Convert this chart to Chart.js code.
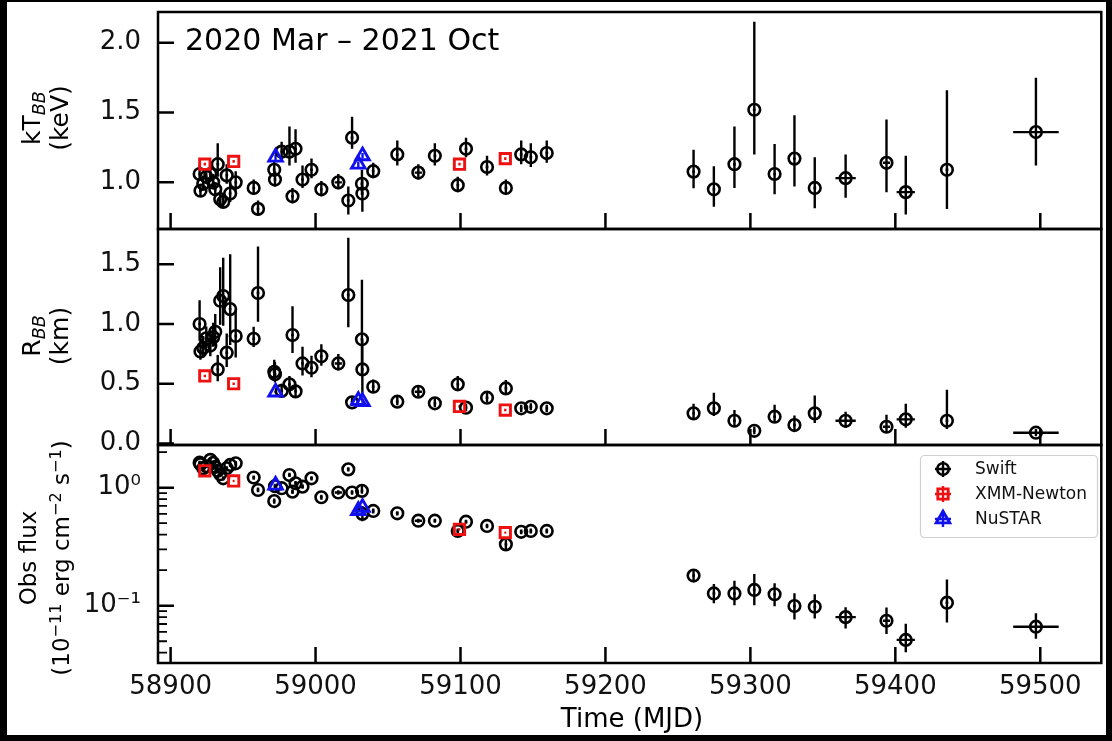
<!DOCTYPE html>
<html><head><meta charset="utf-8">
<script src="https://cdn.jsdelivr.net/npm/chart.js@4.4.1/dist/chart.umd.min.js"></script>
<style>
html,body{margin:0;padding:0;width:1112px;height:741px;overflow:hidden;background:#000;}
#paper{position:absolute;left:7px;top:2px;width:1099px;height:733px;background:#fff;}
canvas{position:absolute;left:0;}
.lab{position:absolute;font-family:'DejaVu Sans';color:#000;white-space:nowrap;}
.ylab{transform:translate(-50%,-50%) rotate(-90deg);text-align:center;}
.sb{font-size:70%;font-style:italic;vertical-align:-0.3em;line-height:0;}
.sp{font-size:70%;vertical-align:0.5em;line-height:0;}
</style></head><body>
<div id="paper"></div>
<canvas id="c1" width="1112" height="250" style="top:0px"></canvas>
<canvas id="c2" width="1112" height="256" style="top:209px"></canvas>
<canvas id="c3" width="1112" height="316" style="top:425px"></canvas>
<div class="lab" style="left:185px;top:25px;font-size:30px;line-height:30px">2020 Mar – 2021 Oct</div>
<div class="lab ylab" style="left:46px;top:118px;font-size:25px;line-height:28px">kT<span class="sb">BB</span><br>(keV)</div>
<div class="lab ylab" style="left:46px;top:336px;font-size:25px;line-height:28px">R<span class="sb">BB</span><br>(km)</div>
<div class="lab ylab" style="left:45px;top:558px;font-size:23px;line-height:33px">Obs flux<br>(10<span class="sp">−11</span> erg cm<span class="sp">−2</span> s<span class="sp">−1</span>)</div>
<div class="lab" style="left:632px;top:718px;transform:translate(-50%,-50%);font-size:26px">Time (MJD)</div>
<script>
// ---------------- DATA ----------------
const SWIFT_MJD = [58920.0, 58920.6, 58922.5, 58924.6, 58927.4, 58929.4, 58930.8, 58932.5, 58934.2, 58936.3, 58938.7, 58941.1, 58944.9,
  58957.3, 58960.3, 58971.5, 58972.0, 58976.6, 58982.0, 58984.1, 58986.2, 58991.0, 58997.2, 59004.0, 59015.7, 59022.6, 59025.2, 59032.0, 59032.3, 59039.8,
  59056.4, 59070.9, 59082.3, 59098.1, 59103.8, 59118.3, 59131.3, 59141.9, 59148.5, 59159.5,
  59260.8, 59274.8, 59289.0, 59302.7, 59316.7, 59330.4, 59344.4, 59365.7, 59393.9, 59407.2, 59435.6, 59497.0];
const SWIFT_XERR = [1,1,1,1,1,1,1,1,1,1,1,1,1,
  1,1,1,1,1,1,1,1,1,1,1,2.5,1,1,1,1,1,
  1,2.5,1,1,1,1,1,1,1,1,
  1,1,1,1,1,1,1,7,2.5,6.3,1,15.7];
const SWIFT_KT = [1.06, 0.94, 0.99, 1.04, 1.06, 1.00, 0.95, 1.13, 0.88, 0.86, 1.05, 0.92, 1.00,
  0.96, 0.81, 1.09, 1.02, 1.22, 1.22, 0.90, 1.24, 1.02, 1.09, 0.95, 1.00, 0.87, 1.32, 0.99, 0.92, 1.08,
  1.20, 1.07, 1.19, 0.98, 1.24, 1.11, 0.96, 1.20, 1.18, 1.21,
  1.077, 0.95, 1.13, 1.52, 1.06, 1.17, 0.96, 1.03, 1.14, 0.93, 1.09, 1.36];
const SWIFT_KT_LO = [0.05,0.04,0.05,0.05,0.05,0.05,0.04,0.09,0.05,0.04,0.06,0.06,0.06,
  0.05,0.05,0.05,0.05,0.06,0.10,0.05,0.10,0.06,0.06,0.05,0.05,0.10,0.08,0.08,0.13,0.05,
  0.08,0.05,0.07,0.05,0.06,0.06,0.05,0.07,0.07,0.07,
  0.12,0.125,0.17,0.32,0.146,0.20,0.146,0.14,0.21,0.16,0.28,0.24];
const SWIFT_KT_HI = [0.06,0.05,0.06,0.06,0.07,0.06,0.05,0.15,0.06,0.05,0.08,0.08,0.08,
  0.06,0.06,0.06,0.06,0.07,0.18,0.06,0.14,0.10,0.08,0.06,0.06,0.10,0.15,0.10,0.10,0.06,
  0.10,0.06,0.09,0.06,0.08,0.08,0.06,0.10,0.10,0.09,
  0.156,0.165,0.27,0.63,0.215,0.31,0.22,0.17,0.31,0.26,0.57,0.39];
const SWIFT_R = [1.00, 0.77, 0.80, 0.88, 0.82, 0.89, 0.935, 0.62, 1.195, 1.235, 0.76, 1.125, 0.90,
  0.877, 1.26, 0.60, 0.58, 0.44, 0.495, 0.908, 0.436, 0.67, 0.634, 0.73, 0.67, 1.243, 0.344, 0.872, 0.62, 0.475,
  0.35, 0.433, 0.336, 0.495, 0.30, 0.383, 0.461, 0.294, 0.307, 0.294,
  0.252, 0.294, 0.19, 0.106, 0.224, 0.154, 0.252, 0.19, 0.14, 0.202, 0.19, 0.09];
const SWIFT_R_LO = [0.14,0.07,0.08,0.08,0.09,0.08,0.12,0.10,0.20,0.25,0.12,0.30,0.18,
  0.07,0.24,0.07,0.07,0.05,0.05,0.15,0.05,0.10,0.08,0.08,0.06,0.27,0.03,0.30,0.22,0.05,
  0.03,0.04,0.03,0.05,0.03,0.04,0.05,0.03,0.03,0.03,
  0.05,0.065,0.05,0.03,0.05,0.05,0.08,0.06,0.05,0.07,0.07,0.03];
const SWIFT_R_HI = [0.20,0.09,0.10,0.10,0.12,0.12,0.15,0.12,0.28,0.32,0.16,0.46,0.22,
  0.10,0.39,0.10,0.10,0.06,0.07,0.24,0.06,0.14,0.10,0.10,0.08,0.48,0.04,0.50,0.25,0.06,
  0.04,0.05,0.04,0.07,0.03,0.05,0.07,0.03,0.03,0.03,
  0.08,0.13,0.09,0.035,0.10,0.08,0.15,0.075,0.10,0.13,0.26,0.03];
const SWIFT_FLUX = [1.63, 1.58, 1.46, 1.52, 1.72, 1.62, 1.50, 1.39, 1.30, 1.20, 1.46, 1.56, 1.61,
  1.22, 0.956, 0.77, 1.03, 0.99, 1.28, 0.925, 1.09, 1.02, 1.20, 0.83, 0.91, 1.43, 0.91, 0.94, 0.60, 0.635,
  0.607, 0.525, 0.525, 0.43, 0.515, 0.474, 0.331, 0.423, 0.43, 0.43,
  0.18, 0.127, 0.127, 0.136, 0.125, 0.0994, 0.098, 0.080, 0.0746, 0.0513, 0.106, 0.0664];
const SWIFT_FLUX_LO = [0.06,0.06,0.06,0.06,0.07,0.06,0.06,0.05,0.05,0.05,0.06,0.06,0.07,
  0.05,0.04,0.04,0.05,0.04,0.05,0.04,0.05,0.04,0.05,0.04,0.04,0.06,0.04,0.05,0.08,0.03,
  0.025,0.02,0.02,0.02,0.02,0.02,0.03,0.02,0.02,0.02,
  0.02,0.022,0.026,0.035,0.026,0.023,0.02,0.016,0.017,0.011,0.034,0.014];
const SWIFT_FLUX_HI = [0.06,0.06,0.06,0.06,0.07,0.06,0.06,0.05,0.05,0.05,0.06,0.06,0.07,
  0.05,0.05,0.04,0.05,0.04,0.06,0.04,0.05,0.05,0.05,0.04,0.04,0.06,0.04,0.10,0.10,0.03,
  0.025,0.02,0.02,0.02,0.02,0.02,0.03,0.02,0.02,0.02,
  0.02,0.026,0.036,0.05,0.03,0.028,0.027,0.017,0.022,0.019,0.061,0.02];

const XMM_MJD = [58923.6, 58943.5, 59099.3, 59130.9];
const XMM_KT = [1.13, 1.15, 1.13, 1.17];
const XMM_R = [0.565, 0.50, 0.31, 0.28];
const XMM_FLUX = [1.39, 1.14, 0.444, 0.416];
const XMM_ERR_KT = [0.01, 0.01, 0.01, 0.01];
const XMM_ERR_R = [0.01, 0.01, 0.01, 0.01];
const XMM_ERR_FLUX = [0.01, 0.01, 0.004, 0.004];

const NUSTAR_MJD = [58972.4, 59029.5, 59032.4];
const NUSTAR_KT = [1.18, 1.13, 1.19];
const NUSTAR_R = [0.43, 0.36, 0.35];
const NUSTAR_FLUX = [1.05, 0.64, 0.68];
const NUSTAR_ERR_KT = [0.02, 0.02, 0.02];
const NUSTAR_ERR_R = [0.01, 0.01, 0.01];
const NUSTAR_ERR_FLUX = [0.01, 0.01, 0.01];

const X_TICKS = [58900, 59000, 59100, 59200, 59300, 59400, 59500];
const KT_TICKS = [1.0, 1.5, 2.0];
const R_TICKS = [0.0, 0.5, 1.0, 1.5];
const FLUX_MAJOR = [0.1, 1];
const FLUX_LABELS = {'0.1': '10⁻¹', '1': '10⁰'};
const LEGEND_LABELS = ['Swift', 'XMM-Newton', 'NuSTAR'];

const X_MIN = 58891.3, X_MAX = 59542.1;

// ---------------- STYLE / HELPERS ----------------
Chart.defaults.font.family = 'DejaVu Sans';
Chart.defaults.color = '#000';
const C_SWIFT = '#000000', C_XMM = '#ee1111', C_NU = '#1111ee';

function pts(xs, ys) { return xs.map((x, i) => ({x: x, y: ys[i]})); }

function errPlugin(specs) {
  return {
    id: 'errbars',
    beforeDatasetsDraw(chart) {
      const {ctx, chartArea: a, scales} = chart;
      const xs = scales.x, ys = scales.y;
      ctx.save();
      ctx.beginPath(); ctx.rect(a.left, a.top, a.right - a.left, a.bottom - a.top); ctx.clip();
      ctx.lineWidth = 2.4; ctx.lineCap = 'butt';
      for (const s of specs) {
        ctx.strokeStyle = s.color; ctx.beginPath();
        for (let i = 0; i < s.x.length; i++) {
          const px = xs.getPixelForValue(s.x[i]);
          const py = ys.getPixelForValue(s.y[i]);
          let lo = s.y[i] - s.lo[i]; if (lo <= 0) lo = s.y[i] * 0.5;
          ctx.moveTo(px, ys.getPixelForValue(lo));
          ctx.lineTo(px, ys.getPixelForValue(s.y[i] + s.hi[i]));
          const xe = s.xe ? s.xe[i] : 0.5;
          ctx.moveTo(xs.getPixelForValue(s.x[i] - xe), py);
          ctx.lineTo(xs.getPixelForValue(s.x[i] + xe), py);
        }
        ctx.stroke();
      }
      ctx.restore();
    }
  };
}

const framePlugin = {
  id: 'frame',
  afterDatasetsDraw(chart) {
    const {ctx, chartArea: a, scales} = chart;
    ctx.save();
    ctx.strokeStyle = '#000'; ctx.lineWidth = 2.5;
    ctx.beginPath();
    X_TICKS.forEach(v => { const p = scales.x.getPixelForValue(v); ctx.moveTo(p, a.bottom); ctx.lineTo(p, a.bottom - 16); });
    const isLog = scales.y.type === 'logarithmic';
    scales.y.ticks.forEach(t => {
      const v = t.value;
      const p = scales.y.getPixelForValue(v);
      let major = true;
      if (isLog) { const l = Math.log10(v); major = Math.abs(l - Math.round(l)) < 1e-6; }
      if (major) { ctx.moveTo(a.left, p); ctx.lineTo(a.left + 16, p); }
    });
    ctx.stroke();
    if (isLog) {
      ctx.lineWidth = 1.8; ctx.beginPath();
      scales.y.ticks.forEach(t => {
        const l = Math.log10(t.value);
        if (Math.abs(l - Math.round(l)) >= 1e-6) {
          const p = scales.y.getPixelForValue(t.value);
          ctx.moveTo(a.left, p); ctx.lineTo(a.left + 9, p);
        }
      });
      ctx.stroke();
    }
    ctx.lineWidth = 2.5;
    ctx.strokeRect(a.left, a.top, a.right - a.left, a.bottom - a.top);
    ctx.restore();
  }
};

function marker(ctx, style, x, y, r) {
  ctx.beginPath();
  if (style === 'circle') ctx.arc(x, y, r, 0, Math.PI * 2);
  else if (style === 'rect') { const s = r * Math.SQRT1_2; ctx.rect(x - s, y - s, 2 * s, 2 * s); }
  else { ctx.moveTo(x, y - r); ctx.lineTo(x + r * 0.866, y + r * 0.5); ctx.lineTo(x - r * 0.866, y + r * 0.5); ctx.closePath(); }
  ctx.stroke();
}

const legendPlugin = {
  id: 'legbox',
  afterDraw(chart) {
    const ctx = chart.ctx; const off = 425;
    ctx.save();
    ctx.fillStyle = 'rgba(255,255,255,0.85)'; ctx.strokeStyle = '#d0d0d0'; ctx.lineWidth = 1.2;
    ctx.beginPath(); ctx.roundRect(920.5, 455.5 - off, 177, 82, 4); ctx.fill(); ctx.stroke();
    const items = [[LEGEND_LABELS[0], C_SWIFT, 'circle', 5.8], [LEGEND_LABELS[1], C_XMM, 'rect', 7.3], [LEGEND_LABELS[2], C_NU, 'triangle', 7.8]];
    items.forEach((it, i) => {
      const cx = 943, cy = 469 - off + i * 25;
      ctx.strokeStyle = it[1]; ctx.lineWidth = 2.4;
      ctx.beginPath(); ctx.moveTo(cx - 8, cy); ctx.lineTo(cx + 8, cy); ctx.moveTo(cx, cy - 8); ctx.lineTo(cx, cy + 8); ctx.stroke();
      ctx.lineWidth = it[2] === 'circle' ? 2.6 : 2.9;
      marker(ctx, it[2], cx, cy, it[3]);
      ctx.fillStyle = '#111'; ctx.font = '17px "DejaVu Sans"'; ctx.textBaseline = 'middle'; ctx.textAlign = 'left';
      ctx.fillText(it[0], 975, cy + 1);
    });
    ctx.restore();
  }
};

function ds(label, xs, ys, color, style, r, bw, order) {
  return {label, data: pts(xs, ys), pointStyle: style, pointRadius: r, pointHoverRadius: r,
    pointBorderWidth: bw, pointHoverBorderWidth: bw, pointBorderColor: color, pointBackgroundColor: 'rgba(0,0,0,0)',
    order: order, clip: false};
}

function makePanel(id, padTop, padBottom, yScale, sets, errSpecs, showX, extra) {
  const xScale = {
    type: 'linear', min: X_MIN, max: X_MAX, display: showX,
    grid: {display: false, drawTicks: false}, border: {display: false},
    ticks: {font: {size: 26}, color: '#111', padding: 9, maxRotation: 0, autoSkip: false, callback: v => String(v)},
    afterBuildTicks: s => { s.ticks = X_TICKS.map(v => ({value: v})); },
    afterFit: s => { s.height = showX ? 78 : 0; s.paddingLeft = 0; s.paddingRight = 0; }
  };
  yScale.afterFit = s => { s.width = 158; s.paddingTop = 0; s.paddingBottom = 0; };
  yScale.grid = {display: false, drawTicks: false};
  yScale.border = {display: false};
  return new Chart(document.getElementById(id), {
    type: 'scatter',
    data: {datasets: sets},
    options: {
      responsive: false, animation: false, devicePixelRatio: 1,
      events: [],
      layout: {padding: {left: 0, right: 7, top: padTop, bottom: padBottom}},
      plugins: {legend: {display: false}, tooltip: {enabled: false}},
      scales: {x: xScale, y: yScale}
    },
    plugins: [errPlugin(errSpecs), framePlugin].concat(extra || [])
  });
}

// Panel 1: kT
makePanel('c1', 12, 21, {
  type: 'linear', min: 0.666, max: 2.22,
  ticks: {font: {size: 26}, color: '#111', padding: 17, autoSkip: false, callback: v => Number(v).toFixed(1)},
  afterBuildTicks: s => { s.ticks = KT_TICKS.map(v => ({value: v})); }
}, [
  ds('NuSTAR', NUSTAR_MJD, NUSTAR_KT, C_NU, 'triangle', 7.8, 2.9, 0),
  ds('XMM-Newton', XMM_MJD, XMM_KT, C_XMM, 'rect', 7.3, 2.9, 1),
  ds('Swift', SWIFT_MJD, SWIFT_KT, C_SWIFT, 'circle', 5.8, 2.6, 2)
], [
  {x: SWIFT_MJD, y: SWIFT_KT, lo: SWIFT_KT_LO, hi: SWIFT_KT_HI, xe: SWIFT_XERR, color: C_SWIFT},
  {x: XMM_MJD, y: XMM_KT, lo: XMM_ERR_KT, hi: XMM_ERR_KT, color: C_XMM},
  {x: NUSTAR_MJD, y: NUSTAR_KT, lo: NUSTAR_ERR_KT, hi: NUSTAR_ERR_KT, color: C_NU}
], false);

// Panel 2: R
makePanel('c2', 20, 20, {
  type: 'linear', min: -0.013, max: 1.796,
  ticks: {font: {size: 26}, color: '#111', padding: 17, autoSkip: false, callback: v => Number(v).toFixed(1)},
  afterBuildTicks: s => { s.ticks = R_TICKS.map(v => ({value: v})); }
}, [
  ds('NuSTAR', NUSTAR_MJD, NUSTAR_R, C_NU, 'triangle', 7.8, 2.9, 0),
  ds('XMM-Newton', XMM_MJD, XMM_R, C_XMM, 'rect', 7.3, 2.9, 1),
  ds('Swift', SWIFT_MJD, SWIFT_R, C_SWIFT, 'circle', 5.8, 2.6, 2)
], [
  {x: SWIFT_MJD, y: SWIFT_R, lo: SWIFT_R_LO, hi: SWIFT_R_HI, xe: SWIFT_XERR, color: C_SWIFT},
  {x: XMM_MJD, y: XMM_R, lo: XMM_ERR_R, hi: XMM_ERR_R, color: C_XMM},
  {x: NUSTAR_MJD, y: NUSTAR_R, lo: NUSTAR_ERR_R, hi: NUSTAR_ERR_R, color: C_NU}
], false);

// Panel 3: flux (log)
const FLUX_MIN = 0.0327, FLUX_MAX = 2.30;
function fluxTicks() {
  const out = [];
  for (let d = -2; d <= 0; d++) for (let k = 1; k <= 9; k++) {
    const v = +(k * Math.pow(10, d)).toPrecision(6);
    if (v >= FLUX_MIN && v <= FLUX_MAX) out.push({value: v});
  }
  return out;
}
makePanel('c3', 20, 0, {
  type: 'logarithmic', min: FLUX_MIN, max: FLUX_MAX,
  ticks: {font: {size: 26}, color: '#111', padding: 17, autoSkip: false,
    callback: v => { const k = String(+Number(v).toPrecision(6)); return FLUX_MAJOR.includes(+k) ? FLUX_LABELS[k] : ''; }},
  afterBuildTicks: s => { s.ticks = fluxTicks(); }
}, [
  ds('NuSTAR', NUSTAR_MJD, NUSTAR_FLUX, C_NU, 'triangle', 7.8, 2.9, 0),
  ds('XMM-Newton', XMM_MJD, XMM_FLUX, C_XMM, 'rect', 7.3, 2.9, 1),
  ds('Swift', SWIFT_MJD, SWIFT_FLUX, C_SWIFT, 'circle', 5.8, 2.6, 2)
], [
  {x: SWIFT_MJD, y: SWIFT_FLUX, lo: SWIFT_FLUX_LO, hi: SWIFT_FLUX_HI, xe: SWIFT_XERR, color: C_SWIFT},
  {x: XMM_MJD, y: XMM_FLUX, lo: XMM_ERR_FLUX, hi: XMM_ERR_FLUX, color: C_XMM},
  {x: NUSTAR_MJD, y: NUSTAR_FLUX, lo: NUSTAR_ERR_FLUX, hi: NUSTAR_ERR_FLUX, color: C_NU}
], true, [legendPlugin]);
</script>
</body></html>
